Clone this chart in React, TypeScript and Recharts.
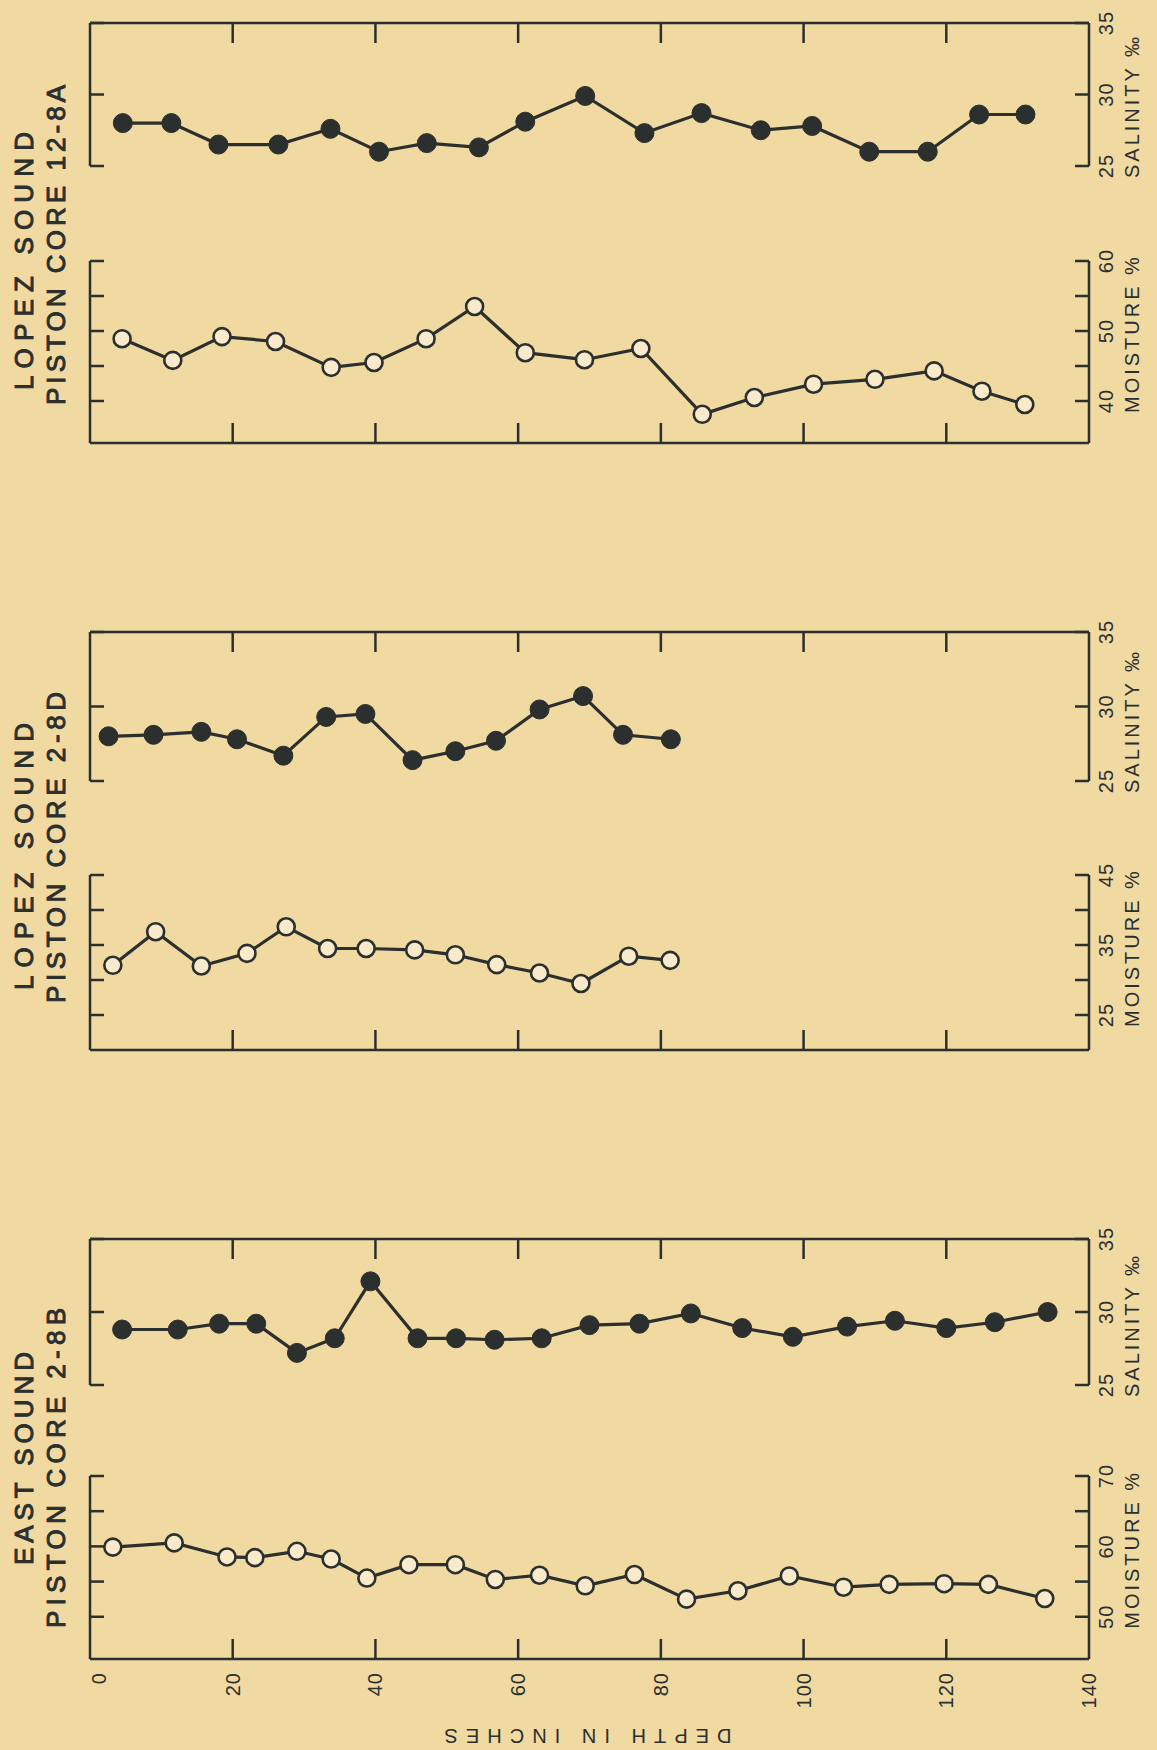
import React from "react";
import { LineChart, Line, XAxis, YAxis, ReferenceLine } from "recharts";

const PAGE_W = 1157;
const PAGE_H = 1750;
const BG = "#F1D9A2";
const INK = "#2b2f2d";
const OPEN_FILL = "#F8EACB";
const FONT = "'Liberation Sans', Arial, sans-serif";

const PLOT_LEFT = 90;
const PLOT_RIGHT = 1089;
const PAD = 24;
const X_TICK = 20;
const Y_TICK = 14;

const depthTicks = [0, 20, 40, 60, 80, 100, 120, 140];

// Lopez Sound, piston core 12-8A
const core128aSalDepth = [4.6, 11.4, 18.0, 26.4, 33.7, 40.5, 47.2, 54.5, 61.0, 69.4, 77.7, 85.7, 94.0, 101.2, 109.2, 117.4, 124.6, 131.1];
const core128aSalinity = [28.0, 28.0, 26.5, 26.5, 27.6, 26.0, 26.6, 26.3, 28.1, 29.9, 27.3, 28.7, 27.5, 27.8, 26.0, 26.0, 28.6, 28.6];
const core128aMoistDepth = [4.5, 11.6, 18.5, 26.0, 33.8, 39.8, 47.1, 53.9, 61.0, 69.3, 77.2, 85.8, 93.1, 101.4, 110.0, 118.3, 125.0, 131.0];
const core128aMoisture = [48.9, 45.8, 49.2, 48.5, 44.8, 45.5, 48.9, 53.5, 46.9, 45.9, 47.5, 38.1, 40.5, 42.4, 43.1, 44.3, 41.4, 39.5];

// Lopez Sound, piston core 2-8D
const core28dSalDepth = [2.6, 8.9, 15.6, 20.6, 27.1, 33.1, 38.6, 45.2, 51.2, 56.9, 63.0, 69.1, 74.7, 81.4];
const core28dSalinity = [28.0, 28.1, 28.3, 27.8, 26.7, 29.3, 29.5, 26.4, 27.0, 27.7, 29.8, 30.7, 28.1, 27.8];
const core28dMoistDepth = [3.2, 9.2, 15.6, 22.0, 27.5, 33.3, 38.7, 45.5, 51.2, 57.0, 63.0, 68.8, 75.5, 81.3];
const core28dMoisture = [32.1, 36.9, 32.0, 33.8, 37.6, 34.5, 34.5, 34.3, 33.6, 32.2, 31.0, 29.5, 33.4, 32.8];

// East Sound, piston core 2-8B
const core28bSalDepth = [4.5, 12.3, 18.1, 23.3, 29.0, 34.3, 39.3, 45.9, 51.3, 56.7, 63.3, 70.0, 77.0, 84.2, 91.4, 98.5, 106.1, 112.8, 120.0, 126.8, 134.2];
const core28bSalinity = [28.8, 28.8, 29.2, 29.2, 27.2, 28.2, 32.1, 28.2, 28.2, 28.1, 28.2, 29.1, 29.2, 29.9, 28.9, 28.3, 29.0, 29.4, 28.9, 29.3, 30.0];
const core28bMoistDepth = [3.2, 11.8, 19.2, 23.1, 29.0, 33.8, 38.8, 44.7, 51.2, 56.8, 63.0, 69.4, 76.3, 83.6, 90.8, 98.0, 105.6, 112.0, 119.7, 125.9, 133.8];
const core28bMoisture = [59.9, 60.5, 58.5, 58.4, 59.3, 58.2, 55.5, 57.4, 57.4, 55.3, 55.9, 54.4, 56.0, 52.5, 53.7, 55.8, 54.2, 54.6, 54.7, 54.6, 52.6];

const salinityTicks = [25, 30, 35];
const moistTicks128a = [40, 45, 50, 55, 60];
const moistLabels128a = [40, 50, 60];
const moistTicks28d = [25, 30, 35, 40, 45];
const moistLabels28d = [25, 35, 45];
const moistTicks28b = [50, 55, 60, 65, 70];
const moistLabels28b = [50, 60, 70];

const toRows = (depth: number[], vals: number[]) =>
  depth.map((d, i) => ({ depth: d, value: vals[i] }));

type SubProps = {
  rows: { depth: number; value: number }[];
  top: number;
  bottom: number;
  domain: [number, number];
  yTicks: number[];
  yLabels: number[];
  kind: "sal" | "moist";
  axisName: string;
  depthLabels?: boolean;
};

function Subplot({ rows, top, bottom, domain, yTicks, yLabels, kind, axisName, depthLabels }: SubProps) {
  const plotH = bottom - top;
  const padBottom = depthLabels ? 66 : PAD;
  const height = plotH + PAD + padBottom;
  const isSal = kind === "sal";
  const plotBottom = PAD + plotH;

  const renderXTick = (props: any) => {
    const { x, payload } = props;
    const v = payload.value as number;
    const inner = v > 0 && v < 140;
    const lx = v === 0 ? x + 9 : x;
    const ly = plotBottom + 13;
    return (
      <g>
        {inner &&
          (isSal ? (
            <line x1={x} x2={x} y1={PAD} y2={PAD + X_TICK} stroke={INK} strokeWidth={2.5} />
          ) : (
            <line x1={x} x2={x} y1={plotBottom} y2={plotBottom - X_TICK} stroke={INK} strokeWidth={2.5} />
          ))}
        {depthLabels && (
          <text
            x={lx}
            y={ly}
            transform={`rotate(-90 ${lx} ${ly})`}
            textAnchor="end"
            dominantBaseline="central"
            fontFamily={FONT}
            fontSize={20}
            letterSpacing={1}
            fill={INK}
          >
            {v}
          </text>
        )}
      </g>
    );
  };

  const renderYTick = (props: any) => {
    const { y, payload } = props;
    const v = payload.value as number;
    const nx = 1106;
    const ax = 1132;
    const ay = y + 12;
    return (
      <g>
        <line x1={PLOT_LEFT} x2={PLOT_LEFT + Y_TICK} y1={y} y2={y} stroke={INK} strokeWidth={2.5} />
        <line x1={PLOT_RIGHT - Y_TICK} x2={PLOT_RIGHT} y1={y} y2={y} stroke={INK} strokeWidth={2.5} />
        {yLabels.includes(v) && (
          <text
            x={nx}
            y={y}
            transform={`rotate(-90 ${nx} ${y})`}
            textAnchor="middle"
            dominantBaseline="central"
            fontFamily={FONT}
            fontSize={20}
            letterSpacing={1}
            fill={INK}
          >
            {v}
          </text>
        )}
        {v === yLabels[0] && (
          <text
            x={ax}
            y={ay}
            transform={`rotate(-90 ${ax} ${ay})`}
            textAnchor="start"
            dominantBaseline="central"
            fontFamily={FONT}
            fontSize={20}
            letterSpacing={3}
            fill={INK}
          >
            {axisName}
          </text>
        )}
      </g>
    );
  };

  // axes are 1px thick (a 0px axis is not drawn), so margins give that pixel back
  return (
    <div style={{ position: "absolute", left: 0, top: top - PAD }}>
      <LineChart
        width={PAGE_W}
        height={height}
        data={rows}
        margin={{
          top: isSal ? PAD - 1 : PAD,
          bottom: isSal ? padBottom : padBottom - 1,
          left: PLOT_LEFT,
          right: PAGE_W - PLOT_RIGHT - 1,
        }}
      >
        <XAxis
          type="number"
          dataKey="depth"
          domain={[0, 140]}
          ticks={depthTicks}
          interval={0}
          orientation={isSal ? "top" : "bottom"}
          height={1}
          axisLine={false}
          tickLine={false}
          tick={renderXTick}
        />
        <YAxis
          type="number"
          domain={domain}
          ticks={yTicks}
          interval={0}
          orientation="right"
          width={1}
          axisLine={false}
          tickLine={false}
          tick={renderYTick}
        />
        <ReferenceLine x={0} stroke={INK} strokeWidth={2.5} />
        <ReferenceLine x={140} stroke={INK} strokeWidth={2.5} />
        <ReferenceLine y={isSal ? domain[1] : domain[0]} stroke={INK} strokeWidth={2.5} />
        <Line
          type="linear"
          dataKey="value"
          stroke={INK}
          strokeWidth={3.2}
          dot={
            isSal
              ? { r: 9.5, fill: INK, stroke: INK, strokeWidth: 1 }
              : { r: 8.5, fill: OPEN_FILL, stroke: INK, strokeWidth: 2.6 }
          }
          activeDot={false}
          isAnimationActive={false}
        />
      </LineChart>
    </div>
  );
}

const titles = [
  { text: "LOPEZ  SOUND", x: 24, y: 390, len: 258 },
  { text: "PISTON  CORE  12-8A", x: 56, y: 405, len: 320 },
  { text: "LOPEZ  SOUND", x: 24, y: 990, len: 267 },
  { text: "PISTON  CORE  2-8D", x: 56, y: 1003, len: 311 },
  { text: "EAST  SOUND", x: 24, y: 1565, len: 213 },
  { text: "PISTON  CORE  2-8B", x: 56, y: 1628, len: 320 },
];

export default function App() {
  return (
    <div
      style={{
        position: "absolute",
        left: 0,
        top: 0,
        width: PAGE_W,
        height: PAGE_H,
        background: BG,
        overflow: "hidden",
      }}
    >
      <Subplot rows={toRows(core128aSalDepth, core128aSalinity)} top={23} bottom={166} domain={[25, 35]}
        yTicks={salinityTicks} yLabels={salinityTicks} kind="sal" axisName="SALINITY ‰" />
      <Subplot rows={toRows(core128aMoistDepth, core128aMoisture)} top={261} bottom={443} domain={[34, 60]}
        yTicks={moistTicks128a} yLabels={moistLabels128a} kind="moist" axisName="MOISTURE %" />

      <Subplot rows={toRows(core28dSalDepth, core28dSalinity)} top={632} bottom={781} domain={[25, 35]}
        yTicks={salinityTicks} yLabels={salinityTicks} kind="sal" axisName="SALINITY ‰" />
      <Subplot rows={toRows(core28dMoistDepth, core28dMoisture)} top={875} bottom={1050} domain={[20, 45]}
        yTicks={moistTicks28d} yLabels={moistLabels28d} kind="moist" axisName="MOISTURE %" />

      <Subplot rows={toRows(core28bSalDepth, core28bSalinity)} top={1239} bottom={1385} domain={[25, 35]}
        yTicks={salinityTicks} yLabels={salinityTicks} kind="sal" axisName="SALINITY ‰" />
      <Subplot rows={toRows(core28bMoistDepth, core28bMoisture)} top={1476} bottom={1659} domain={[44, 70]}
        yTicks={moistTicks28b} yLabels={moistLabels28b} kind="moist" axisName="MOISTURE %" depthLabels />

      <svg
        width={PAGE_W}
        height={PAGE_H}
        style={{ position: "absolute", left: 0, top: 0, pointerEvents: "none" }}
      >
        {titles.map((t) => (
          <text
            key={t.text + t.y}
            x={t.x}
            y={t.y}
            transform={`rotate(-90 ${t.x} ${t.y})`}
            textAnchor="start"
            dominantBaseline="central"
            fontFamily={FONT}
            fontSize={26}
            textLength={t.len}
            lengthAdjust="spacing"
            fill={INK}
            stroke={INK}
            strokeWidth={1}
          >
            {t.text}
          </text>
        ))}
        <text
          x={588}
          y={1736}
          transform="rotate(180 588 1736)"
          textAnchor="middle"
          dominantBaseline="central"
          fontFamily={FONT}
          fontSize={20}
          textLength={287}
          lengthAdjust="spacing"
          fill={INK}
        >
          DEPTH  IN  INCHES
        </text>
      </svg>
    </div>
  );
}
